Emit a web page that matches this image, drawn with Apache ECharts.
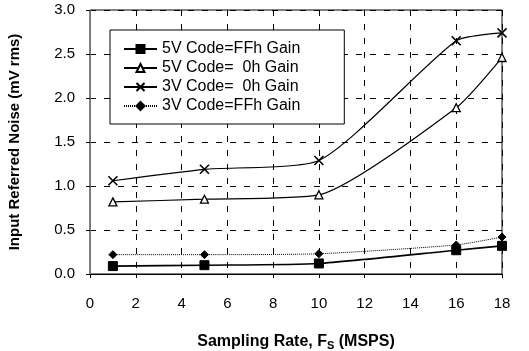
<!DOCTYPE html>
<html>
<head>
<meta charset="utf-8">
<script src="https://cdn.jsdelivr.net/npm/echarts@6/dist/echarts.min.js"></script>
<style>
  html, body { margin: 0; padding: 0; background: #fff; }
  #chart { width: 529px; height: 351px; }
</style>
</head>
<body>
<div id="chart"></div>
<script>
const rates = [1, 5, 10, 16, 18];
const v5ffh = [0.09, 0.10, 0.12, 0.27, 0.32];
const v5zero = [0.82, 0.85, 0.90, 1.89, 2.46];
const v3zero = [1.06, 1.19, 1.29, 2.65, 2.74];
const v3ffh = [0.22, 0.22, 0.23, 0.33, 0.42];
const names = ['5V Code=FFh Gain', '5V Code=  0h Gain', '3V Code=  0h Gain', '3V Code=FFh Gain'];

const FONT = '"Liberation Sans", Arial, sans-serif';
const pts = (ys) => rates.map((x, i) => [x, ys[i]]);
const CROSS = 'path://M0,0L10,10M10,0L0,10';

function line(name, ys, symbol, size, hollow, width) {
  return {
    name,
    type: 'line',
    data: pts(ys),
    smooth: 0.2,
    symbol,
    symbolSize: size,
    lineStyle: { color: '#000', width: width || 1.2 },
    itemStyle: hollow
      ? { color: '#fff', borderColor: '#000', borderWidth: 1.3 }
      : { color: '#000', borderColor: '#000', borderWidth: 1 },
    z: 3,
  };
}

const chart = echarts.init(document.getElementById('chart'), null, { renderer: 'canvas' });
chart.setOption({
  backgroundColor: '#fff',
  animation: false,
  textStyle: { fontFamily: FONT },
  grid: {
    left: 90, right: 27, top: 10, bottom: 77,
    outerBoundsMode: 'none',
    show: true, borderColor: '#000', borderWidth: 1,
  },
  legend: {
    data: names,
    orient: 'vertical',
    left: 110,
    top: 30,
    padding: [11, 44, 10, 13],
    itemGap: 3,
    itemWidth: 33,
    itemHeight: 10,
    backgroundColor: '#fff',
    borderColor: '#000',
    borderWidth: 1,
    textStyle: { fontFamily: FONT, fontSize: 16, color: '#000' },
  },
  xAxis: {
    type: 'value',
    min: 0,
    max: 18,
    interval: 2,
    axisLine: { onZero: false, lineStyle: { color: '#000', width: 1.2 } },
    axisTick: { inside: false, length: 4, lineStyle: { color: '#000' } },
    axisLabel: { fontFamily: FONT, fontSize: 15, color: '#000', margin: 22 },
    splitLine: { show: true, lineStyle: { color: '#000', type: [6, 8], width: 1 } },
    name: '{b|Sampling Rate, F}{s|S}{b| (MSPS)}',
    nameLocation: 'middle',
    nameGap: 58,
    nameTextStyle: {
      rich: {
        b: { fontFamily: FONT, fontSize: 16, fontWeight: 'bold', color: '#000' },
        s: { fontFamily: FONT, fontSize: 11, fontWeight: 'bold', color: '#000', padding: [8, 0, 0, 0] },
      },
    },
  },
  yAxis: {
    type: 'value',
    min: 0,
    max: 3,
    interval: 0.5,
    axisLine: { show: true, lineStyle: { color: '#777', width: 1 } },
    axisTick: { show: true, length: 4, lineStyle: { color: '#000' } },
    axisLabel: { fontFamily: FONT, fontSize: 15, color: '#000', margin: 15, formatter: (v) => v.toFixed(1) },
    splitLine: { show: true, lineStyle: { color: '#000', type: [6, 8], width: 1 } },
    name: 'Input Referred Noise (mV rms)',
    nameLocation: 'middle',
    nameGap: 68,
    nameTextStyle: { fontFamily: FONT, fontSize: 15, fontWeight: 'bold', color: '#000' },
  },
  series: [
    line(names[0], v5ffh, 'rect', 9, false, 1.6),
    line(names[1], v5zero, 'triangle', 8, true),
    Object.assign(line(names[2], v3zero, CROSS, 9, false), {
      itemStyle: { color: 'transparent', borderColor: '#000', borderWidth: 1.6 },
    }),
    Object.assign(line(names[3], v3ffh, 'diamond', 8, false), {
      lineStyle: { color: '#000', width: 1, type: [1, 1] },
    }),
  ],
});
</script>
</body>
</html>
